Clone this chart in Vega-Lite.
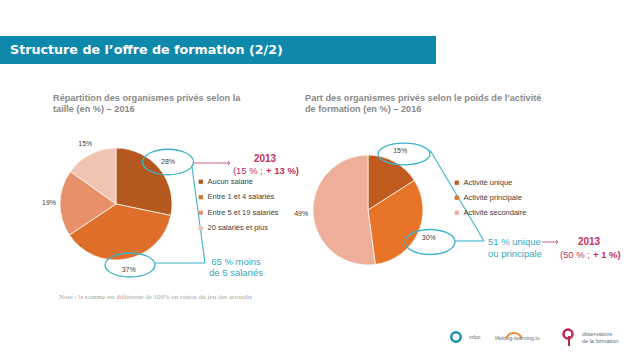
{
  "$schema": "https://vega.github.io/schema/vega-lite/v6.json",
  "width": 638,
  "height": 359,
  "autosize": {"type": "fit", "contains": "padding"},
  "padding": 0,
  "background": "white",
  "config": {"view": {"stroke": null}, "font": "Liberation Sans"},
  "data": {"values": [{}]},
  "resolve": {"scale": {"color": "independent", "theta": "independent"}},
  "layer": [
    {"mark": {"type": "rect", "color": "#0f89ab"},
     "encoding": {"x": {"value": 0}, "x2": {"value": 436}, "y": {"value": 36}, "y2": {"value": 64}}},
    {"mark": {"type": "text", "text": "Structure de l’offre de formation (2/2)", "align": "left", "baseline": "middle", "fontSize": 12.7, "fontWeight": "bold", "color": "white", "font": "DejaVu Sans"},
     "encoding": {"x": {"value": 10}, "y": {"value": 50}}},
    {"mark": {"type": "text", "text": ["Répartition des organismes privés selon la", "taille (en %) – 2016"], "align": "left", "baseline": "middle", "fontSize": 9.2, "fontWeight": "bold", "color": "#8a8a8a", "lineHeight": 11},
     "encoding": {"x": {"value": 53}, "y": {"value": 98}}},
    {"mark": {"type": "text", "text": ["Part des organismes privés selon le poids de l’activité", "de formation (en %) – 2016"], "align": "left", "baseline": "middle", "fontSize": 9.2, "fontWeight": "bold", "color": "#8a8a8a", "lineHeight": 11},
     "encoding": {"x": {"value": 305}, "y": {"value": 98}}},
    {"data": {"values": [
      {"cat": "Aucun salarié", "v": 28, "label": "28%", "rank": 1},
      {"cat": "Entre 1 et 4 salariés", "v": 37, "label": "37%", "rank": 2},
      {"cat": "Entre 5 et 19 salariés", "v": 19, "label": "19%", "rank": 3},
      {"cat": "20 salariés et plus", "v": 15, "label": "15%", "rank": 4}
    ]},
     "layer": [
      {"mark": {"type": "arc", "outerRadius": 56, "stroke": "white", "strokeWidth": 0.7},
       "encoding": {
         "theta": {"field": "v", "type": "quantitative", "stack": true},
         "order": {"field": "rank", "type": "quantitative"},
         "color": {"field": "cat", "type": "nominal",
           "scale": {"domain": ["Aucun salarié", "Entre 1 et 4 salariés", "Entre 5 et 19 salariés", "20 salariés et plus"], "range": ["#b5581f", "#dd6f2b", "#e8906a", "#f1c4b2"]},
           "legend": {"orient": "none", "legendX": 197, "legendY": 178, "title": null, "symbolType": "square", "symbolSize": 18, "symbolStrokeWidth": 0, "labelFontSize": 7.5, "labelColor": "#404040", "labelFont": "Liberation Sans", "rowPadding": 6.5, "padding": 0, "labelOffset": 3}},
         "x": {"value": 116}, "y": {"value": 204}}},
      {"mark": {"type": "text", "radius": 67, "fontSize": 7, "color": "#404040"},
       "encoding": {
         "theta": {"field": "v", "type": "quantitative", "stack": true},
         "order": {"field": "rank", "type": "quantitative"},
         "text": {"field": "label"},
         "x": {"value": 116}, "y": {"value": 204}}}
     ]},
    {"data": {"values": [
      {"act": "Activité unique", "w": 15, "label": "15%", "rank": 1},
      {"act": "Activité principale", "w": 30, "label": "30%", "rank": 2},
      {"act": "Activité secondaire", "w": 49, "label": "49%", "rank": 3}
    ]},
     "layer": [
      {"mark": {"type": "arc", "outerRadius": 55, "stroke": "white", "strokeWidth": 0.7},
       "encoding": {
         "theta": {"field": "w", "type": "quantitative", "stack": true},
         "order": {"field": "rank", "type": "quantitative"},
         "color": {"field": "act", "type": "nominal",
           "scale": {"domain": ["Activité unique", "Activité principale", "Activité secondaire"], "range": ["#c05a1e", "#e8742a", "#eeaf9a"]},
           "legend": {"orient": "none", "legendX": 453, "legendY": 179, "title": null, "symbolType": "square", "symbolSize": 18, "symbolStrokeWidth": 0, "labelFontSize": 7.5, "labelColor": "#404040", "labelFont": "Liberation Sans", "rowPadding": 6, "padding": 0, "labelOffset": 3}},
         "x": {"value": 368}, "y": {"value": 210}}},
      {"mark": {"type": "text", "radius": 67, "fontSize": 7, "color": "#404040"},
       "encoding": {
         "theta": {"field": "w", "type": "quantitative", "stack": true},
         "order": {"field": "rank", "type": "quantitative"},
         "text": {"field": "label"},
         "x": {"value": 368}, "y": {"value": 210}}}
     ]},
    {"mark": {"type": "point", "shape": "M -1 0 A 1 0.5 0 1 0 1 0 A 1 0.5 0 1 0 -1 0", "filled": false, "stroke": "#3db4cc", "strokeWidth": 1.3, "opacity": 1, "size": 2600},
     "encoding": {"x": {"value": 168}, "y": {"value": 162}}},
    {"mark": {"type": "point", "shape": "M -1 0 A 1 0.48 0 1 0 1 0 A 1 0.48 0 1 0 -1 0", "filled": false, "stroke": "#3db4cc", "strokeWidth": 1.3, "opacity": 1, "size": 2500},
     "encoding": {"x": {"value": 130}, "y": {"value": 265}}},
    {"mark": {"type": "point", "shape": "M -1 0 A 1 0.42 0 1 0 1 0 A 1 0.42 0 1 0 -1 0", "filled": false, "stroke": "#3db4cc", "strokeWidth": 1.3, "opacity": 1, "size": 2704},
     "encoding": {"x": {"value": 404}, "y": {"value": 154}}},
    {"mark": {"type": "point", "shape": "M -1 0 A 1 0.5 0 1 0 1 0 A 1 0.5 0 1 0 -1 0", "filled": false, "stroke": "#3db4cc", "strokeWidth": 1.3, "opacity": 1, "size": 2500},
     "encoding": {"x": {"value": 430}, "y": {"value": 242}}},
    {"mark": {"type": "rule", "color": "#3db4cc", "strokeWidth": 1.1},
     "encoding": {"x": {"value": 192}, "y": {"value": 167}, "x2": {"value": 205}, "y2": {"value": 263}}},
    {"mark": {"type": "rule", "color": "#3db4cc", "strokeWidth": 1.1},
     "encoding": {"x": {"value": 154}, "y": {"value": 263}, "x2": {"value": 205}, "y2": {"value": 263}}},
    {"mark": {"type": "rule", "color": "#3db4cc", "strokeWidth": 1.1},
     "encoding": {"x": {"value": 430}, "y": {"value": 150}, "x2": {"value": 484}, "y2": {"value": 241}}},
    {"mark": {"type": "rule", "color": "#3db4cc", "strokeWidth": 1.1},
     "encoding": {"x": {"value": 455}, "y": {"value": 241}, "x2": {"value": 484}, "y2": {"value": 241}}},
    {"mark": {"type": "rule", "color": "#d0608a", "strokeWidth": 1},
     "encoding": {"x": {"value": 194}, "y": {"value": 163}, "x2": {"value": 230}, "y2": {"value": 163}}},
    {"mark": {"type": "point", "shape": "M -1 -1 L 0 0 L -1 1", "filled": false, "stroke": "#d0608a", "strokeWidth": 1, "opacity": 1, "size": 16},
     "encoding": {"x": {"value": 230}, "y": {"value": 163}}},
    {"mark": {"type": "rule", "color": "#d0608a", "strokeWidth": 1},
     "encoding": {"x": {"value": 542}, "y": {"value": 242}, "x2": {"value": 558}, "y2": {"value": 242}}},
    {"mark": {"type": "point", "shape": "M -1 -1 L 0 0 L -1 1", "filled": false, "stroke": "#d0608a", "strokeWidth": 1, "opacity": 1, "size": 16},
     "encoding": {"x": {"value": 558}, "y": {"value": 242}}},
    {"mark": {"type": "text", "text": "2013", "align": "center", "baseline": "middle", "fontSize": 10, "fontWeight": "bold", "color": "#c2305e"},
     "encoding": {"x": {"value": 265}, "y": {"value": 159}}},
    {"mark": {"type": "text", "text": "(15 % ;", "align": "right", "baseline": "middle", "fontSize": 9.5, "color": "#c2305e"},
     "encoding": {"x": {"value": 263}, "y": {"value": 171}}},
    {"mark": {"type": "text", "text": "+ 13 %)", "align": "left", "baseline": "middle", "fontSize": 9.5, "fontWeight": "bold", "color": "#c2305e"},
     "encoding": {"x": {"value": 266}, "y": {"value": 171}}},
    {"mark": {"type": "text", "text": ["65 % moins", "de 5 salariés"], "align": "center", "baseline": "middle", "fontSize": 9.5, "color": "#36a8c4", "lineHeight": 11},
     "encoding": {"x": {"value": 236}, "y": {"value": 262}}},
    {"mark": {"type": "text", "text": ["51 % unique", "ou principale"], "align": "left", "baseline": "middle", "fontSize": 9.5, "color": "#36a8c4", "lineHeight": 12},
     "encoding": {"x": {"value": 488}, "y": {"value": 242}}},
    {"mark": {"type": "text", "text": "2013", "align": "center", "baseline": "middle", "fontSize": 10, "fontWeight": "bold", "color": "#c2305e"},
     "encoding": {"x": {"value": 589}, "y": {"value": 242}}},
    {"mark": {"type": "text", "text": "(50 % ;", "align": "right", "baseline": "middle", "fontSize": 9.5, "color": "#c2305e"},
     "encoding": {"x": {"value": 590}, "y": {"value": 255}}},
    {"mark": {"type": "text", "text": "+ 1 %)", "align": "left", "baseline": "middle", "fontSize": 9.5, "fontWeight": "bold", "color": "#c2305e"},
     "encoding": {"x": {"value": 593}, "y": {"value": 255}}},
    {"mark": {"type": "text", "text": "Note : la somme est différente de 100% en raison du jeu des arrondis", "align": "left", "baseline": "middle", "fontSize": 7, "font": "Liberation Serif", "color": "#a5a5a5"},
     "encoding": {"x": {"value": 59}, "y": {"value": 297}}},
    {"mark": {"type": "point", "shape": "circle", "filled": false, "stroke": "#1a8fb0", "strokeWidth": 2.5, "opacity": 1, "size": 90},
     "encoding": {"x": {"value": 456}, "y": {"value": 337}}},
    {"mark": {"type": "text", "text": "infpc", "align": "left", "baseline": "middle", "fontSize": 5.5, "color": "#607080"},
     "encoding": {"x": {"value": 469}, "y": {"value": 337}}},
    {"mark": {"type": "text", "text": "lifelong-learning.lu", "align": "left", "baseline": "middle", "fontSize": 5.5, "color": "#607080"},
     "encoding": {"x": {"value": 495}, "y": {"value": 338}}},
    {"mark": {"type": "arc", "innerRadius": 7, "outerRadius": 9, "color": "#e8903a", "theta": -1.3, "theta2": 1.3},
     "encoding": {"x": {"value": 514}, "y": {"value": 341}}},
    {"mark": {"type": "point", "shape": "circle", "filled": false, "stroke": "#c0254f", "strokeWidth": 2.5, "opacity": 1, "size": 80},
     "encoding": {"x": {"value": 568}, "y": {"value": 334}}},
    {"mark": {"type": "rule", "color": "#c0254f", "strokeWidth": 2},
     "encoding": {"x": {"value": 569}, "y": {"value": 336}, "x2": {"value": 569}, "y2": {"value": 346}}},
    {"mark": {"type": "text", "text": ["observatoire", "de la formation"], "align": "left", "baseline": "middle", "fontSize": 5.5, "color": "#607080", "lineHeight": 7},
     "encoding": {"x": {"value": 582}, "y": {"value": 334}}}
  ]
}
